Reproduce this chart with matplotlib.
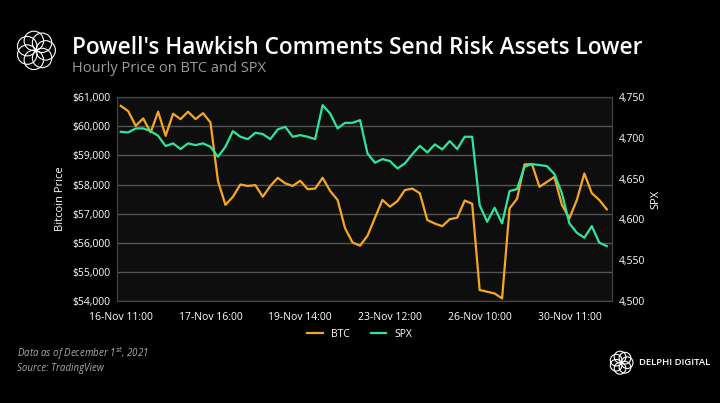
import matplotlib
matplotlib.use("Agg")
import matplotlib.pyplot as plt
import numpy as np

btc = [60700,60520,60015,60270,59790,60500,59670,60430,60245,60500,60245,60450,60130,58130,57300,57580,58000,57950,57980,57580,57950,58230,58040,57950,58130,57840,57860,58230,57780,57470,56500,56010,55900,56240,
       56860,57470,57240,57430,57810,57860,57700,56780,56660,56570,56810,56860,57450,57340,54380,54320,54260,54090,57180,57510,58690,58700,57920,58090,58260,57300,56840,57470,58380,57700,57470,57150]
spx = [4707.5,4706.7,4711.6,4711.6,4708.3,4702.6,4690,4693.3,4686.3,4693.3,4691.2,4693.3,4689.1,4676.9,4689.1,4708.3,4701.4,4698.5,4706.3,4704.7,4698.5,4710.4,4713.6,4701.4,4703.4,4701.4,4698.5,4740.2,4730,4711.6,4718.5,4718.5,4721.8,4681,
       4669.5,4674,4671.6,4662.6,4668.7,4680.1,4690.3,4682.2,4692,4685.9,4696.1,4686.3,4701.4,4701.4,4617.6,4597.2,4614.4,4595.2,4634.8,4637.3,4664.6,4667.9,4666.7,4665.4,4655.6,4632,4595.2,4583.7,4577.6,4591.9,4571.5,4567.4]
tick_labels = ["16-Nov 11:00","17-Nov 16:00","19-Nov 14:00","23-Nov 12:00","26-Nov 10:00","30-Nov 11:00"]
tick_pos = [0,12,24,36,48,60]

plt.rcParams['font.family'] = ['Open Sans','DejaVu Sans']
fig = plt.figure(figsize=(7.2,4.03), dpi=100, facecolor='black')
ax = fig.add_axes([0.1625,0.253,0.6875,0.506])
ax.set_facecolor('#0e0e0e')
x = np.arange(len(btc))
orange = '#f5a623'; green = '#2ee59d'
l1, = ax.plot(x, btc, color=orange, lw=1.6, label='BTC')
ax.set_ylim(54000,61000)
ax.set_xlim(-0.5, len(btc)-0.3)
ax.set_yticks(range(54000,61001,1000))
ax.set_yticklabels([f"${v:,}" for v in range(54000,61001,1000)])
ax.grid(axis='y', color='#555555', lw=1)
ax.set_axisbelow(True)
ax.set_xticks(tick_pos); ax.set_xticklabels(tick_labels)
ax2 = ax.twinx()
l2, = ax2.plot(x, spx, color=green, lw=1.6, label='SPX')
ax2.set_ylim(4500,4750)
ax2.set_yticks(range(4500,4751,50))
ax2.set_yticklabels([f"{v:,}" for v in range(4500,4751,50)])
for a in (ax, ax2):
    a.tick_params(colors='white', labelsize=7.5, length=0, pad=5)
    for s in a.spines.values():
        s.set_color('#444444')
ax.tick_params(axis='x', pad=8)
ax.set_ylabel('Bitcoin Price', color='white', fontsize=8)
ax2.set_ylabel('SPX', color='white', fontsize=8)
leg = fig.legend([l1,l2], ['BTC','SPX'], loc='center', bbox_to_anchor=(0.5,0.17), ncol=2, frameon=False, fontsize=7.5, labelcolor='white', handlelength=1.5)

fig.text(0.1,0.88,"Powell's Hawkish Comments Send Risk Assets Lower", color='white', fontsize=16.3, fontweight='semibold', va='center')
fig.text(0.1,0.83,"Hourly Price on BTC and SPX", color='#9a9a9a', fontsize=10.5, va='center')
fig.text(0.024,0.115,"Data as of December 1$^{st}$, 2021", color='#aaaaaa', fontsize=7, style='italic')
fig.text(0.024,0.08,"Source: TradingView", color='#aaaaaa', fontsize=7, style='italic')
fig.text(0.888,0.1,"DELPHI DIGITAL", color='white', fontsize=6.8, fontweight='semibold', va='center', ha='left')

def logo(cx, cy, r, n=7):
    la = fig.add_axes([cx-r, cy-r*720/403, 2*r, 2*r*720/403])
    la.set_xlim(-1,1); la.set_ylim(-1,1); la.axis('off'); la.set_aspect('equal')
    for k in range(n):
        a = 2*np.pi*k/n
        c = plt.Circle((0.45*np.cos(a),0.45*np.sin(a)),0.45,fill=False,color='white',lw=0.8)
        la.add_patch(c)
logo(0.05,0.875,0.03)
logo(0.863,0.1,0.018)
fig.savefig('out.png', dpi=100, facecolor='black')
